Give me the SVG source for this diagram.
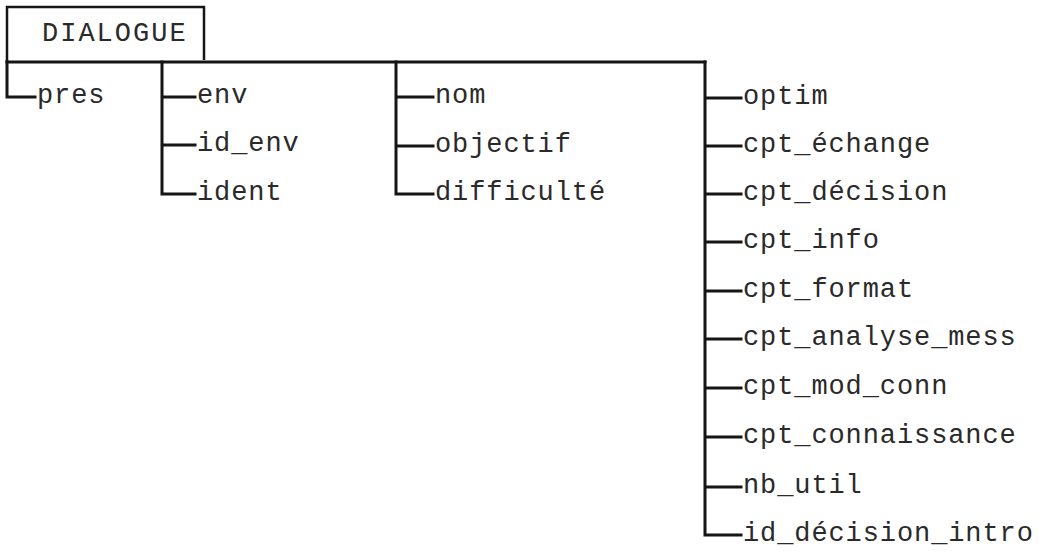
<svg xmlns="http://www.w3.org/2000/svg" width="1052" height="555" viewBox="0 0 1052 555">
<style>
.t{font-family:"Liberation Mono","Courier New",monospace;font-size:27px;letter-spacing:0.9px;fill:#2a2a2a}
.h{letter-spacing:2px}
.l{stroke:#151515;stroke-width:3;fill:none;stroke-linecap:square}
.b{stroke:#151515;stroke-width:2.5;fill:none}
</style>
<rect width="1052" height="555" fill="#fff"/>
<g id="connectors">
<path class="b" d="M7,62 V7 H204 V60"/>
<path class="l" d="M7,62 H705"/>
<path class="l" d="M7,62 V97 H35"/>
<path class="l" d="M162,62 V194 H195 M162,97 H195 M162,145 H195"/>
<path class="l" d="M396,62 V194 H433 M396,97 H433 M396,146 H433"/>
<path class="l" d="M705,62 V535 H741 M705,98 H741 M705,146 H741 M705,194 H741 M705,242 H741 M705,291 H741 M705,339 H741 M705,388 H741 M705,437 H741 M705,487 H741"/>
</g>
<g id="n-dialogue"><text class="t h" x="42" y="41">DIALOGUE</text></g>
<g id="n-pres"><text class="t" x="37" y="103">pres</text></g>
<g id="n-env"><text class="t" x="197" y="103">env</text></g>
<g id="n-id_env"><text class="t" x="197" y="151">id_env</text></g>
<g id="n-ident"><text class="t" x="197" y="200">ident</text></g>
<g id="n-nom"><text class="t" x="435" y="103">nom</text></g>
<g id="n-objectif"><text class="t" x="435" y="152">objectif</text></g>
<g id="n-difficulte"><text class="t" x="435" y="200">difficulté</text></g>
<g id="n-optim"><text class="t" x="743" y="104">optim</text></g>
<g id="n-cpt_echange"><text class="t" x="743" y="152">cpt_échange</text></g>
<g id="n-cpt_decision"><text class="t" x="743" y="200">cpt_décision</text></g>
<g id="n-cpt_info"><text class="t" x="743" y="248">cpt_info</text></g>
<g id="n-cpt_format"><text class="t" x="743" y="297">cpt_format</text></g>
<g id="n-cpt_analyse_mess"><text class="t" x="743" y="345">cpt_analyse_mess</text></g>
<g id="n-cpt_mod_conn"><text class="t" x="743" y="394">cpt_mod_conn</text></g>
<g id="n-cpt_connaissance"><text class="t" x="743" y="443">cpt_connaissance</text></g>
<g id="n-nb_util"><text class="t" x="743" y="493">nb_util</text></g>
<g id="n-id_decision_intro"><text class="t" x="743" y="541">id_décision_intro</text></g>
</svg>
